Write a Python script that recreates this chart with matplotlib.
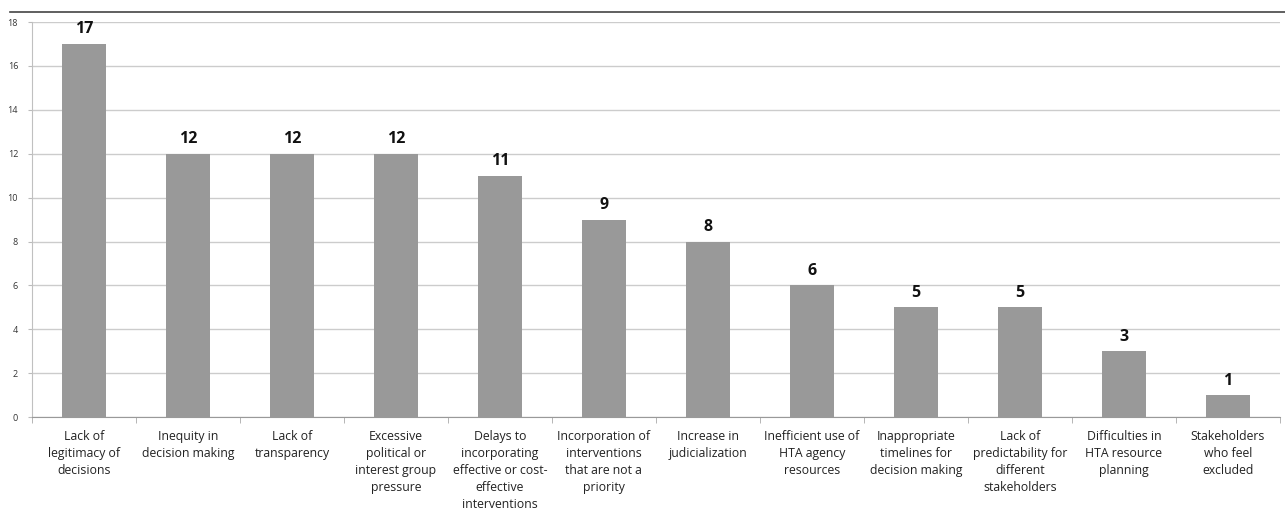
import matplotlib
matplotlib.use("Agg")
import matplotlib.pyplot as plt
from matplotlib.lines import Line2D
import numpy as np

categories = [
    "Lack of\nlegitimacy of\ndecisions",
    "Inequity in\ndecision making",
    "Lack of\ntransparency",
    "Excessive\npolitical or\ninterest group\npressure",
    "Delays to\nincorporating\neffective or cost-\neffective\ninterventions",
    "Incorporation of\ninterventions\nthat are not a\npriority",
    "Increase in\njudicialization",
    "Inefficient use of\nHTA agency\nresources",
    "Inappropriate\ntimelines for\ndecision making",
    "Lack of\npredictability for\ndifferent\nstakeholders",
    "Difficulties in\nHTA resource\nplanning",
    "Stakeholders\nwho feel\nexcluded",
]
values = [17, 12, 12, 12, 11, 9, 8, 6, 5, 5, 3, 1]
yticks = [0, 2, 4, 6, 8, 10, 12, 14, 16, 18]

plt.rcParams['font.family'] = ['Open Sans', 'DejaVu Sans']

fig = plt.figure(figsize=(12.85, 5.13), dpi=100)
ax = fig.add_axes([0.0249, 0.187, 0.9711, 0.770])

x = np.arange(len(categories))
ax.bar(x, values, width=0.42, color="#999999", zorder=3)
for xi, v in zip(x, values):
    ax.text(xi, v + 0.3, str(v), ha="center", va="bottom", fontsize=11.5,
            fontweight="bold", color="#111111")

ax.set_xlim(-0.5, len(categories) - 0.5)
ax.set_ylim(0, 18)
ax.set_yticks(yticks)
ax.set_yticklabels([str(t) for t in yticks], fontsize=6.5, color="#333333")
ax.yaxis.grid(True, color="#cccccc", linewidth=1.0, zorder=0)
ax.tick_params(axis="y", length=3, color="#bbbbbb", pad=7)

ax.set_xticks(x)
ax.set_xticklabels(categories, fontsize=8.8, color="#222222", linespacing=1.42)
ax.tick_params(axis="x", which="major", length=0, pad=9)
ax.set_xticks(np.arange(-0.5, len(categories), 1.0), minor=True)
ax.tick_params(axis="x", which="minor", length=4, color="#aaaaaa")

for s in ["top", "right"]:
    ax.spines[s].set_visible(False)
ax.spines["left"].set_color("#c0c0c0")
ax.spines["bottom"].set_color("#999999")

fig.add_artist(Line2D([0.008, 1.0], [1 - 12/513, 1 - 12/513], color="#444444", linewidth=1.2))

fig.savefig("out.png", dpi=100)
